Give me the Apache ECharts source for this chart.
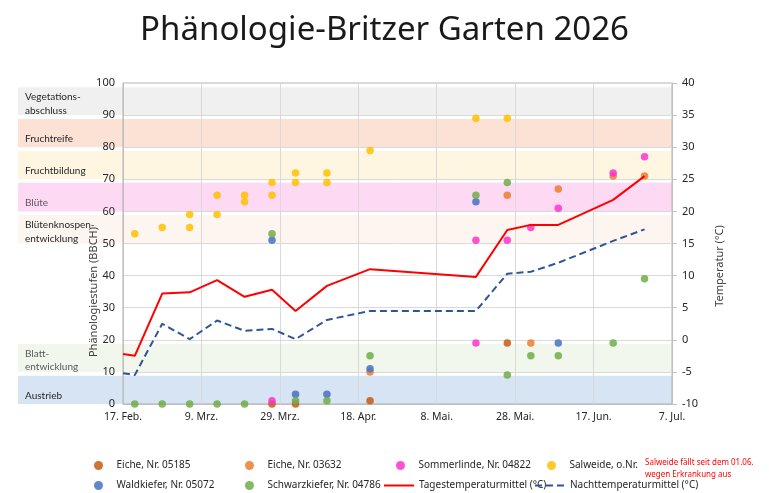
<!DOCTYPE html>
<html>
<head>
<meta charset="utf-8">
<title>Phänologie-Britzer Garten 2026</title>
<script src="https://cdn.jsdelivr.net/npm/echarts@6/dist/echarts.min.js"></script>
<style>
  html, body { margin: 0; padding: 0; background: #fff; }
  #chart { width: 769px; height: 493px; }
</style>
</head>
<body>
<div id="chart"></div>
<script>
// x-Achse: Tage ab dem Startdatum, Beschriftung alle 20 Tage
const startDate = '2026-02-17'
const xTickLabels = ['17. Feb.', '9. Mrz.', '29. Mrz.', '18. Apr.', '8. Mai.', '28. Mai.', '17. Jun.', '7. Jul.']

// Hintergrundbänder = BBCH-Makrostadien
const bandNames = ['Austrieb', 'Blatt-\nentwicklung', 'Blütenknospen-\nentwicklung', 'Blüte', 'Fruchtbildung', 'Fruchtreife', 'Vegetations-\nabschluss']
const bandFrom = [0, 10, 50, 60, 70, 80, 90]
const bandTo = [8.8, 18.7, 58.9, 68.9, 78.8, 88.8, 98.7]
const bandColors = ['#d6e4f3', '#f2f7ee', '#fdf5ef', '#fdd9f3', '#fff6e1', '#fbe2d5', '#f0f0f0']

// Temperaturen (°C)
const tempDates = ['2026-02-17', '2026-02-20', '2026-02-27', '2026-03-06', '2026-03-13', '2026-03-20', '2026-03-27', '2026-04-02',
  '2026-04-10', '2026-04-21', '2026-05-18', '2026-05-26', '2026-06-01', '2026-06-08', '2026-06-22', '2026-06-30']
const tagesTemp = [-2.2, -2.5, 7.2, 7.4, 9.3, 6.7, 7.8, 4.5, 8.4, 11.0, 9.8, 17.1, 17.9, 17.9, 21.8, 25.5]
const nachtTemp = [-5.2, -5.5, 2.5, 0.1, 3.0, 1.4, 1.7, 0.1, 3.1, 4.5, 4.5, 10.3, 10.6, 12.0, 15.4, 17.2]

// Beobachtungen je Baum: [Datum, BBCH-Stufe]
const eiche05185 = [['2026-03-27', 0], ['2026-04-02', 0], ['2026-04-21', 1], ['2026-05-26', 19]]
const eiche03632 = [['2026-04-21', 10], ['2026-05-26', 65], ['2026-06-01', 19], ['2026-06-08', 67], ['2026-06-22', 71], ['2026-06-30', 71]]
const sommerlinde = [['2026-03-27', 1], ['2026-05-18', 51], ['2026-05-18', 19], ['2026-05-26', 51], ['2026-06-01', 55],
  ['2026-06-08', 61], ['2026-06-22', 72], ['2026-06-30', 77]]
const salweide = [['2026-02-20', 53], ['2026-02-27', 55], ['2026-03-06', 55], ['2026-03-06', 59], ['2026-03-13', 59], ['2026-03-13', 65],
  ['2026-03-20', 65], ['2026-03-20', 63], ['2026-03-27', 69], ['2026-03-27', 65], ['2026-04-02', 72], ['2026-04-02', 69],
  ['2026-04-10', 72], ['2026-04-10', 69], ['2026-04-21', 79], ['2026-05-18', 89], ['2026-05-26', 89]]
const waldkiefer = [['2026-03-27', 51], ['2026-04-02', 3], ['2026-04-10', 3], ['2026-04-21', 11], ['2026-05-18', 63], ['2026-06-08', 19]]
const schwarzkiefer = [['2026-02-20', 0], ['2026-02-27', 0], ['2026-03-06', 0], ['2026-03-13', 0], ['2026-03-20', 0],
  ['2026-03-27', 53], ['2026-04-02', 1], ['2026-04-10', 1], ['2026-04-21', 15], ['2026-05-18', 65], ['2026-05-26', 69],
  ['2026-05-26', 9], ['2026-06-01', 15], ['2026-06-08', 15], ['2026-06-22', 19], ['2026-06-30', 39]]

const font = '"Noto Sans", sans-serif'
const bandFont = 'Lato, "Noto Sans", sans-serif'
const textColor = '#262626'

function dayOf(d) {
  return (Date.parse(d) - Date.parse(startDate)) / 86400000
}
function toPoints(list) {
  return list.map(p => [dayOf(p[0]), p[1]])
}

const trees = [
  { name: 'Eiche, Nr. 05185', data: eiche05185, color: '#c55a11' },
  { name: 'Eiche, Nr. 03632', data: eiche03632, color: '#ed7d31' },
  { name: 'Sommerlinde, Nr. 04822', data: sommerlinde, color: '#ff33cc' },
  { name: 'Salweide, o.Nr.', data: salweide, color: '#ffc000' },
  { name: 'Waldkiefer, Nr. 05072', data: waldkiefer, color: '#4472c4' },
  { name: 'Schwarzkiefer, Nr. 04786', data: schwarzkiefer, color: '#70ad47' }
]

const scatterSeries = trees.map(t => ({
  name: t.name,
  type: 'scatter',
  xAxisIndex: 0,
  yAxisIndex: 0,
  symbolSize: 7.5,
  itemStyle: { color: t.color, opacity: 0.85 },
  data: toPoints(t.data),
  z: 3
}))

// Legende: feste Spalten wie im Original
function legendItem(name, left, top, isLine) {
  const item = {
    data: [name],
    left: left,
    top: top,
    padding: 0,
    itemWidth: isLine ? 30 : 26,
    itemHeight: 9,
    textStyle: { fontFamily: font, fontSize: 10, color: textColor },
    selectedMode: false
  }
  if (isLine) item.itemStyle = { opacity: 0 }
  else item.icon = 'circle'
  return item
}

const chart = echarts.init(document.getElementById('chart'), null, { renderer: 'canvas' })

const option = {
  animation: false,
  textStyle: { fontFamily: font },
  title: {
    text: 'Phänologie-Britzer Garten 2026',
    left: 'center',
    top: 9,
    textStyle: { fontFamily: font, fontSize: 33, fontWeight: 'normal', color: '#1a1a1a' }
  },
  legend: [
    legendItem('Eiche, Nr. 05185', 94, 460.5),
    legendItem('Eiche, Nr. 03632', 245, 460.5),
    legendItem('Sommerlinde, Nr. 04822', 396, 460.5),
    legendItem('Salweide, o.Nr.', 547, 460.5),
    legendItem('Waldkiefer, Nr. 05072', 94, 480.5),
    legendItem('Schwarzkiefer, Nr. 04786', 245, 480.5),
    legendItem('Tagestemperaturmittel (°C)', 383, 480.5, true),
    legendItem('Nachttemperaturmittel (°C)', 534, 480.5, true)
  ],
  grid: [
    { left: 123, right: 97, top: 83, bottom: 89, show: true, borderColor: '#b0b0b0', borderWidth: 1, z: 1 },
    { left: 18, right: 97, top: 83, bottom: 89 }
  ],
  xAxis: [
    {
      type: 'value',
      gridIndex: 0,
      min: 0,
      max: 140,
      interval: 20,
      z: 1,
      axisLine: { show: true, lineStyle: { color: '#bfbfbf' } },
      axisTick: { show: false },
      axisLabel: {
        margin: 8,
        fontSize: 10.5,
        color: textColor,
        formatter: v => xTickLabels[Math.round(v / 20)] || ''
      },
      splitLine: { show: true, lineStyle: { color: '#d9d9d9' } }
    },
    { type: 'value', gridIndex: 1, min: 0, max: 1, show: false }
  ],
  yAxis: [
    {
      type: 'value',
      gridIndex: 0,
      min: 0,
      max: 100,
      interval: 10,
      z: 1,
      axisLine: { show: true, lineStyle: { color: '#bfbfbf' } },
      axisTick: { show: false },
      axisLabel: { margin: 8, fontSize: 11, color: textColor },
      splitLine: { show: true, lineStyle: { color: '#d9d9d9' } }
    },
    {
      type: 'value',
      gridIndex: 0,
      position: 'right',
      min: -10,
      max: 40,
      interval: 5,
      z: 1,
      axisLine: { show: true, lineStyle: { color: '#bfbfbf' } },
      axisTick: { show: true, length: 5, lineStyle: { color: '#bfbfbf' } },
      axisLabel: { margin: 10, fontSize: 11, color: textColor },
      splitLine: { show: false }
    },
    { type: 'value', gridIndex: 1, min: 0, max: 100, show: false }
  ],
  graphic: [
    {
      type: 'text',
      x: 94,
      y: 292,
      z: 10,
      rotation: Math.PI / 2,
      style: { text: 'Phänologiestufen (BBCH)', font: '11px ' + font, fill: '#404040', align: 'center', verticalAlign: 'middle' }
    },
    {
      type: 'text',
      x: 720,
      y: 266,
      z: 10,
      rotation: Math.PI / 2,
      style: { text: 'Temperatur (°C)', font: '11px ' + font, fill: '#404040', align: 'center', verticalAlign: 'middle' }
    },
    {
      type: 'text',
      left: 645,
      top: 457,
      z: 10,
      style: { text: 'Salweide fällt seit dem 01.06.\nwegen Erkrankung aus', font: '8px ' + font, fill: '#ff0000', lineHeight: 11.5 }
    }
  ],
  series: [
    {
      name: 'bands',
      type: 'custom',
      xAxisIndex: 1,
      yAxisIndex: 2,
      z: 0,
      silent: true,
      data: bandFrom.map((f, i) => [f, bandTo[i]]),
      encode: { x: -1, y: [0, 1] },
      renderItem(params, api) {
        const top = api.coord([0, api.value(1)])
        const bottom = api.coord([1, api.value(0)])
        const name = bandNames[params.dataIndex]
        const twoLines = name.indexOf('\n') >= 0
        const muted = name === 'Blüte' || name.indexOf('Blatt') === 0
        return {
          type: 'group',
          children: [
            {
              type: 'rect',
              shape: { x: top[0], y: top[1], width: bottom[0] - top[0], height: bottom[1] - top[1] },
              style: { fill: bandColors[params.dataIndex] }
            },
            {
              type: 'text',
              x: top[0] + 7,
              y: (top[1] + bottom[1]) / 2 + (twoLines ? 2.5 : 6),
              style: {
                text: name,
                font: '10px ' + bandFont,
                fill: muted ? '#595959' : textColor,
                verticalAlign: 'middle',
                lineHeight: 13.5
              }
            }
          ]
        }
      }
    },
    ...scatterSeries,
    {
      name: 'Tagestemperaturmittel (°C)',
      type: 'line',
      yAxisIndex: 1,
      symbol: 'none',
      lineStyle: { color: '#ff0000', width: 2 },
      itemStyle: { color: '#ff0000' },
      data: tempDates.map((d, i) => [dayOf(d), tagesTemp[i]]),
      z: 4
    },
    {
      name: 'Nachttemperaturmittel (°C)',
      type: 'line',
      yAxisIndex: 1,
      symbol: 'none',
      lineStyle: { color: '#2f5597', width: 2, type: [7, 4] },
      itemStyle: { color: '#2f5597' },
      data: tempDates.map((d, i) => [dayOf(d), nachtTemp[i]]),
      z: 4
    }
  ]
}

chart.setOption(option)
window.addEventListener('resize', () => chart.resize())
</script>
</body>
</html>
